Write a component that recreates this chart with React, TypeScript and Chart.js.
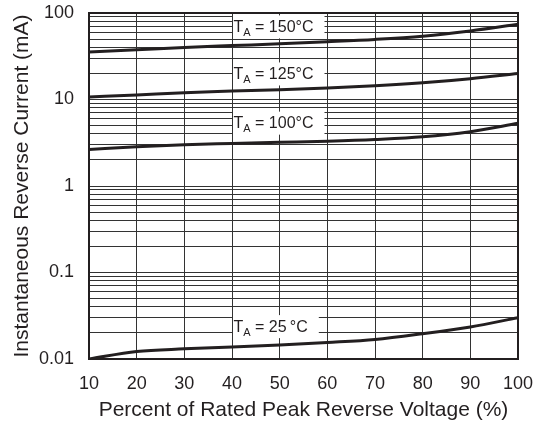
import React, { useEffect, useRef } from 'react';
import { Chart, registerables } from 'chart.js';

Chart.register(...registerables);

const FONT = '"Liberation Sans", Arial, Helvetica, sans-serif';
const INK = '#231f20';

// X categories (% of rated peak reverse voltage)
const xValues = [10, 20, 30, 40, 50, 60, 70, 80, 90, 100];

// Instantaneous reverse current (mA) per junction temperature
const series150 = [35.5, 37.5, 40, 42, 44, 46.5, 49.5, 54, 62, 74];
const series125 = [10.7, 11.3, 12, 12.5, 13, 13.6, 14.4, 15.6, 17.4, 20];
const series100 = [2.65, 2.85, 3.0, 3.1, 3.2, 3.3, 3.45, 3.7, 4.25, 5.3];
const series25 = [0.01, 0.0122, 0.0131, 0.0138, 0.0145, 0.0155, 0.0168, 0.0196, 0.0235, 0.03];

// Curve labels
const labelTemps = ['150', '125', '100', '25'];
const labelSep = ['', '', '', '\u2009'];
const labelY = [70, 20, 5.4, 0.024];
const labelX = 40;

// Axis ticks
const yMajorValues = [0.01, 0.1, 1, 10, 100];
const yTickLabels = ['0.01', '0.1', '1', '10', '100'];
const yDecades = [0.01, 0.1, 1, 10];
const ySignificands = [1, 2, 3, 4, 5, 6, 7, 8, 9];

const yGridValues: number[] = [
  ...yDecades.flatMap((d) => ySignificands.map((s) => +(d * s).toPrecision(3))),
  100,
];

const overlay = {
  id: 'overlay',
  beforeDatasetsDraw(chart: any) {
    const { ctx, scales } = chart;
    const xs = scales.x;
    const ys = scales.y;
    ctx.save();
    labelTemps.forEach((t, i) => {
      const x0 = xs.getPixelForValue(labelX);
      const yc = ys.getPixelForValue(labelY[i]);
      ctx.font = `16px ${FONT}`;
      const wT = ctx.measureText('T').width;
      const rest = ` = ${t}${labelSep[i]}°C`;
      const wR = ctx.measureText(rest).width;
      ctx.font = `11px ${FONT}`;
      const wA = ctx.measureText('A').width;
      const tx = x0 + 1.5;
      ctx.fillStyle = '#ffffff';
      ctx.fillRect(x0 + 1, yc - 11, 1.5 + wT + wA + wR + 10, 23);
      ctx.fillStyle = INK;
      ctx.textBaseline = 'alphabetic';
      ctx.textAlign = 'left';
      const base = yc + 5.8;
      ctx.font = `16px ${FONT}`;
      ctx.fillText('T', tx, base);
      ctx.font = `11px ${FONT}`;
      ctx.fillText('A', tx + wT, base + 4);
      ctx.font = `16px ${FONT}`;
      ctx.fillText(rest, tx + wT + wA, base);
    });
    ctx.restore();
  },
  afterDatasetsDraw(chart: any) {
    const { ctx, chartArea } = chart;
    ctx.save();
    ctx.strokeStyle = INK;
    ctx.lineWidth = 2;
    ctx.strokeRect(
      chartArea.left,
      chartArea.top,
      chartArea.right - chartArea.left,
      chartArea.bottom - chartArea.top
    );
    ctx.restore();
  },
};

function mkDataset(values: number[]) {
  return {
    data: xValues.map((x, i) => ({ x, y: values[i] })),
    borderColor: INK,
    borderWidth: 3,
    pointRadius: 0,
    fill: false,
    tension: 0.4,
    cubicInterpolationMode: 'monotone' as const,
  };
}

export default function App() {
  const ref = useRef<HTMLCanvasElement | null>(null);

  useEffect(() => {
    if (!ref.current) return;
    const chart = new Chart(ref.current, {
      type: 'line',
      data: {
        datasets: [
          mkDataset(series150),
          mkDataset(series125),
          mkDataset(series100),
          mkDataset(series25),
        ],
      },
      options: {
        responsive: false,
        animation: false,
        layout: { padding: { top: 13, right: 23, left: 0, bottom: 0 } },
        plugins: {
          legend: { display: false },
          tooltip: { enabled: false },
        },
        scales: {
          x: {
            type: 'linear',
            min: 10,
            max: 100,
            afterFit: (s: any) => {
              s.height = 66;
              s.paddingLeft = 0;
              s.paddingRight = 0;
            },
            ticks: {
              stepSize: 10,
              color: INK,
              font: { family: FONT, size: 18 },
              padding: 14,
              maxRotation: 0,
            },
            grid: { color: '#333333', lineWidth: 1, drawTicks: false },
            border: { display: false },
            title: {
              display: true,
              text: 'Percent of Rated Peak Reverse Voltage (%)',
              color: INK,
              font: { family: FONT, size: 21 },
              padding: { top: 0, bottom: 2 },
            },
          },
          y: {
            type: 'logarithmic',
            min: 0.01,
            max: 100,
            afterFit: (s: any) => {
              s.width = 89;
              s.paddingTop = 0;
              s.paddingBottom = 0;
            },
            afterBuildTicks: (s: any) => {
              s.ticks = yGridValues.map((v) => ({ value: v }));
            },
            ticks: {
              autoSkip: false,
              color: INK,
              font: { family: FONT, size: 18 },
              padding: 15,
              callback: (value: any) => {
                const v = Number(value);
                const idx = yMajorValues.findIndex((m) => Math.abs(v - m) / m < 1e-6);
                return idx >= 0 ? yTickLabels[idx] : '';
              },
            },
            grid: { color: '#333333', lineWidth: 1, drawTicks: false },
            border: { display: false },
            title: {
              display: true,
              text: 'Instantaneous Reverse Current (mA)',
              color: INK,
              font: { family: FONT, size: 21 },
              padding: { top: 10, bottom: 0 },
            },
          },
        },
      },
      plugins: [overlay],
    });
    return () => chart.destroy();
  }, []);

  return (
    <canvas
      ref={ref}
      width={541}
      height={425}
      style={{ position: 'absolute', left: 0, top: 0, display: 'block' }}
    />
  );
}
